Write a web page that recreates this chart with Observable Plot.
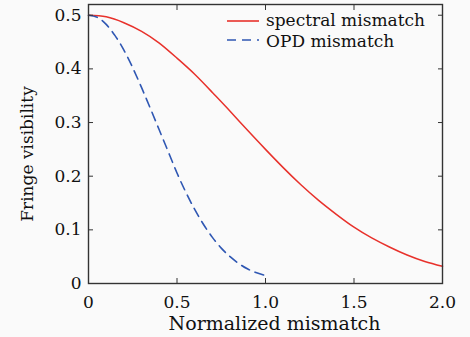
<!DOCTYPE html>
<html><head><meta charset="utf-8">
<script src="https://cdn.jsdelivr.net/npm/d3@7"></script>
<script src="https://cdn.jsdelivr.net/npm/@observablehq/plot@0.6"></script>
<style>
body{margin:0;background:#fafafa;}
#chart{position:relative;width:470px;height:337px;}
</style></head><body><div id="chart"></div>
<script>
const spectralX = [0,0.1,0.2,0.3,0.4,0.5,0.6,0.7,0.8,0.9,1.0,1.1,1.2,1.3,1.4,1.5,1.6,1.7,1.8,1.9,2.0];
const spectralV = [0.500,0.497,0.486,0.470,0.448,0.420,0.390,0.356,0.321,0.285,0.250,0.216,0.184,0.155,0.129,0.105,0.085,0.068,0.053,0.041,0.032];
const opdX = [0,0.05,0.1,0.15,0.2,0.25,0.3,0.35,0.4,0.45,0.5,0.55,0.6,0.65,0.7,0.75,0.8,0.85,0.9,0.95,1.0];
const opdV = [0.500,0.496,0.483,0.462,0.435,0.402,0.365,0.326,0.286,0.246,0.206,0.170,0.138,0.110,0.086,0.066,0.050,0.037,0.027,0.020,0.015];
const xTicks = [0,0.5,1,1.5,2];
const xTickLabels = ["0","0.5","1.0","1.5","2.0"];
const yTicks = [0,0.1,0.2,0.3,0.4,0.5];
const yTickLabels = ["0","0.1","0.2","0.3","0.4","0.5"];
const seriesNames = ["spectral mismatch","OPD mismatch"];
const seriesColors = ["#e8312b","#2f57b3"];
const xLabel = "Normalized mismatch";
const yLabel = "Fringe visibility";

const spectral = spectralX.map((x,i)=>({x, v: spectralV[i]}));
const opd = opdX.map((x,i)=>({x, v: opdV[i]}));
const dash = "9,6";
const fs = 17;

const plot = Plot.plot({
  width: 470, height: 337,
  marginLeft: 88, marginRight: 28, marginTop: 4, marginBottom: 54,
  style: {fontFamily: "DejaVu Serif", fontSize: "17px", background: "#fafafa", color: "#111"},
  x: {domain: [0, 2]},
  y: {domain: [0, 0.52]},
  marks: [
    Plot.line(spectral, {x: "x", y: "v", stroke: seriesColors[0], strokeWidth: 1.5, curve: "natural"}),
    Plot.line(opd, {x: "x", y: "v", stroke: seriesColors[1], strokeWidth: 1.6, strokeDasharray: dash, curve: "natural"}),
    Plot.axisX(xTicks, {anchor: "bottom", tickSize: -5, tickFormat: () => "", label: null, stroke: "#333"}),
    Plot.axisX(xTicks, {anchor: "top", tickSize: -5, tickFormat: () => "", label: null, stroke: "#333"}),
    Plot.axisY(yTicks, {anchor: "left", tickSize: -5, tickFormat: () => "", label: null, stroke: "#333"}),
    Plot.axisY(yTicks, {anchor: "right", tickSize: -5, tickFormat: () => "", label: null, stroke: "#333"}),
    Plot.axisX(xTicks, {anchor: "bottom", tickSize: 0, tickPadding: 12, fontSize: fs, tickFormat: d => xTickLabels[xTicks.indexOf(d)], label: null}),
    Plot.axisY(yTicks, {anchor: "left", tickSize: 0, tickPadding: 7, fontSize: fs, tickFormat: d => yTickLabels[yTicks.indexOf(d)], label: null}),
    Plot.text([xLabel], {frameAnchor: "bottom", text: d => d, fontSize: 19, lineAnchor: "middle", dx: 9, dy: 40, fill: "#111"}),
    Plot.frame({stroke: "#333", strokeWidth: 1.4})
  ]
});
document.getElementById("chart").appendChild(plot);

const svg = d3.select(plot);
// y-axis title
svg.append("text").attr("transform", "translate(28,154) rotate(-90)")
  .attr("text-anchor", "middle").attr("dy", "0.32em")
  .attr("font-family", "DejaVu Serif").attr("font-size", 17).attr("fill", "#111").text(yLabel);

// legend inside the plot, top right
const lg = svg.append("g").attr("font-family", "DejaVu Serif").attr("font-size", fs).attr("text-anchor", "start");
const rows = [{y: 21, base: 25.5, dash: null}, {y: 40, base: 46.5, dash: dash}];
rows.forEach((r, i) => {
  lg.append("line").attr("x1", 227).attr("x2", 259).attr("y1", r.y).attr("y2", r.y)
    .attr("stroke", seriesColors[i]).attr("stroke-width", 1.6)
    .attr("stroke-dasharray", r.dash);
  lg.append("text").attr("x", 266).attr("y", r.base).attr("fill", "#111").text(seriesNames[i]);
});
</script></body></html>
